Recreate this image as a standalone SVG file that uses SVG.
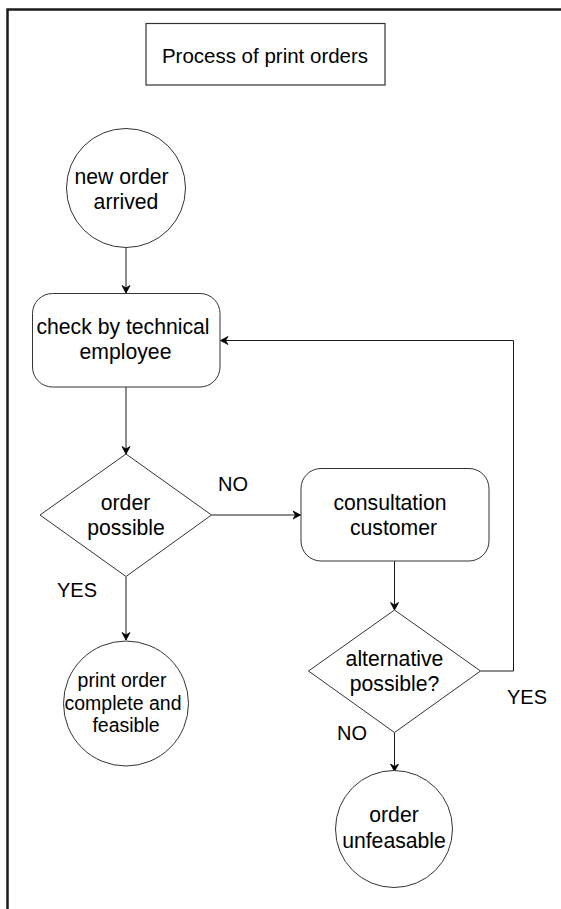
<svg xmlns="http://www.w3.org/2000/svg" width="561" height="909" viewBox="0 0 561 909">
  <style>
    .frame { fill: none; stroke: #1a1a1a; stroke-width: 2.5; }
    .node { fill: #ffffff; stroke: #333333; stroke-width: 1; }
    .title { fill: #ffffff; stroke: #333333; stroke-width: 1.2; }
    .edge { fill: none; stroke: #1a1a1a; stroke-width: 1; }
    text { font-family: "Liberation Sans", Arial, sans-serif; fill: #000000; text-anchor: middle; }
    .t20 { font-size: 20.5px; }
    .t21 { font-size: 21.2px; }
    .t19 { font-size: 19.5px; }
    .lbl { font-size: 20px; text-anchor: start; }
  </style>
  <defs>
    <marker id="arrow" viewBox="-8 -5 10 10" refX="0" refY="0" markerWidth="10" markerHeight="10" markerUnits="userSpaceOnUse" orient="auto">
      <path d="M-7.5,-4 L0,0 L-7.5,4 L-5,0 Z" fill="#000000" stroke="#000000" stroke-width="0.8" stroke-linejoin="round"/>
    </marker>
  </defs>

  <rect width="561" height="909" fill="#ffffff"/>

  <!-- outer frame (extends beyond the canvas on the right and bottom) -->
  <path class="frame" d="M7.5,909 L7.5,9.5 L561,9.5"/>

  <g id="title">
    <rect class="title" x="146" y="23.5" width="239" height="61.5"/>
    <text class="t20" x="265" y="62.5">Process of print orders</text>
  </g>

  <g id="connectors">
    <path class="edge" d="M126,247.5 L126,293" marker-end="url(#arrow)"/>
    <path class="edge" d="M126,387 L126,454" marker-end="url(#arrow)"/>
    <path class="edge" d="M211.5,515 L300.5,515" marker-end="url(#arrow)"/>
    <path class="edge" d="M126,577 L126,640" marker-end="url(#arrow)"/>
    <path class="edge" d="M394.5,561 L394.5,610" marker-end="url(#arrow)"/>
    <path class="edge" d="M394.5,733 L394.5,771.5" marker-end="url(#arrow)"/>
    <path class="edge" d="M480.5,671 L513.5,671 L513.5,340.5 L220.5,340.5" marker-end="url(#arrow)"/>
    <text class="lbl" x="218" y="491">NO</text>
    <text class="lbl" x="57" y="597">YES</text>
    <text class="lbl" x="507" y="703.5">YES</text>
    <text class="lbl" x="337" y="740">NO</text>
  </g>

  <g id="start">
    <circle class="node" cx="126" cy="188" r="59.5"/>
    <text class="t21" x="121.5" y="183.5">new order</text>
    <text class="t21" x="126" y="208.5">arrived</text>
  </g>

  <g id="check">
    <rect class="node" x="32.5" y="293.5" width="187.5" height="93.5" rx="20" ry="20"/>
    <text class="t21" x="123" y="333.5">check by technical</text>
    <text class="t21" x="125.5" y="358.5">employee</text>
  </g>

  <g id="decision-order">
    <polygon class="node" points="126,454 211.5,515 126,576.5 40,515"/>
    <text class="t21" x="125.5" y="510">order</text>
    <text class="t21" x="126" y="535">possible</text>
  </g>

  <g id="consultation">
    <rect class="node" x="301" y="468.5" width="188" height="92.5" rx="20" ry="20"/>
    <text class="t21" x="390" y="510">consultation</text>
    <text class="t21" x="393.5" y="535">customer</text>
  </g>

  <g id="decision-alternative">
    <polygon class="node" points="394.5,610 480.5,671 394.5,732.5 308.5,671"/>
    <text class="t21" x="394.5" y="666">alternative</text>
    <text class="t21" x="394.5" y="691">possible?</text>
  </g>

  <g id="feasible">
    <circle class="node" cx="126" cy="703.5" r="62.5"/>
    <text class="t19" x="122" y="687">print order</text>
    <text class="t19" x="123" y="709.5">complete and</text>
    <text class="t19" x="126" y="732">feasible</text>
  </g>

  <g id="unfeasable">
    <circle class="node" cx="394" cy="829" r="58.5"/>
    <text class="t21" x="394" y="822">order</text>
    <text class="t21" x="394" y="847.5">unfeasable</text>
  </g>
</svg>
